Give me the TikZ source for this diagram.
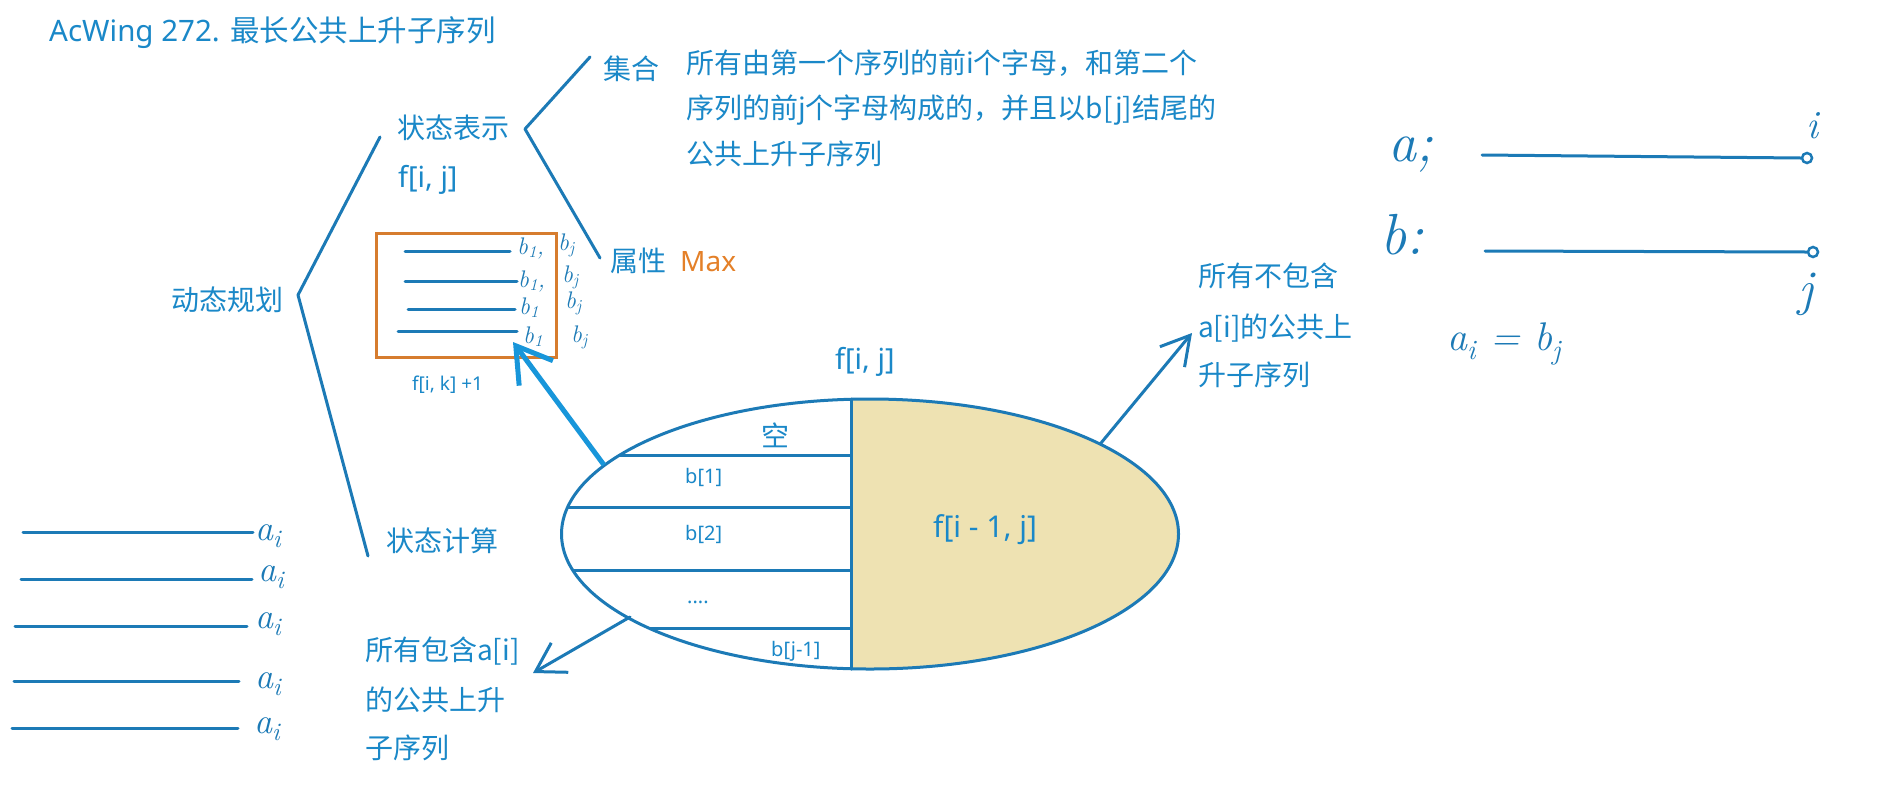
\documentclass[tikz,border=0pt]{standalone}
\usepackage{fontspec}
\newfontfamily\cjk{Noto Sans CJK SC}
\newfontfamily\lat{Noto Sans}
\usetikzlibrary{arrows.meta,shapes.geometric}
\definecolor{txtblue}{RGB}{26,136,200}
\definecolor{lineblue}{RGB}{28,122,182}
\definecolor{brightblue}{RGB}{24,150,218}
\definecolor{boxorange}{RGB}{214,124,46}
\definecolor{maxorange}{RGB}{228,128,40}
\definecolor{tanfill}{RGB}{238,226,178}
\tikzset{
  ctext/.style={font=\cjk\fontsize{#1}{#1}\selectfont, text=txtblue, inner sep=0pt, anchor=base west},
  ctext/.default=28,
  ltext/.style={font=\lat\fontsize{#1}{#1}\selectfont, text=txtblue, inner sep=0pt, anchor=base west},
  ltext/.default=28,
  hand/.style={font=\itshape\fontsize{#1}{#1}\selectfont, text=lineblue, inner sep=0pt, anchor=base west},
  hand/.default=30,
  ln/.style={draw=lineblue, line width=3pt, line cap=round, line join=round},
}
\begin{document}
\begin{tikzpicture}[x=1pt,y=-1pt]
\useasboundingbox[fill=white] (0,0) rectangle (1903,801);

% title
\node[ltext=29.5] (title) at (49,41) {AcWing 272. {\cjk 最长公共上升子序列}};

% tree
\coordinate (t1top) at (380,137);
\coordinate (t1v) at (298,295);
\coordinate (t1bot) at (368,556);
\draw[ln] (t1top) -- (t1v) -- (t1bot);
\coordinate (t2top) at (590,57);
\coordinate (t2v) at (525,129);
\coordinate (t2bot) at (600,258);
\draw[ln] (t2top) -- (t2v) -- (t2bot);

\node[ctext] (dp) at (171,310) {动态规划};
\node[ctext] (rep) at (397,138) {状态表示};
\node[ltext=29] (fij) at (398,187) {f[i, j]};
\node[ctext] (calc) at (386,551) {状态计算};
\node[ctext] (set) at (603,79) {集合};
\node[ctext] (d1) at (686,73) {所有由第一个序列的前i个字母，和第二个};
\node[ctext] (d2) at (686,118) {序列的前j个字母构成的，并且以b[j]结尾的};
\node[ctext] (d3) at (686,164) {公共上升子序列};
\node[ctext] (attr) at (610,271) {属性};
\node[ltext=28, text=maxorange] (max) at (680,271) {Max};

% orange box
\node[rectangle, draw=boxorange, line width=3pt, minimum width=180pt, minimum height=124pt, inner sep=0pt] (box) at (466,295) {};
\draw[ln] (405,251) -- (510,251);
\draw[ln] (405,281) -- (517,281);
\draw[ln] (408,309) -- (515,309);
\draw[ln] (398,331) -- (517,331);
\node[hand=24] (bb1) at (517,254) {b\textsubscript{1},};
\node[hand=24] (bb2) at (518,287) {b\textsubscript{1},};
\node[hand=24] (bb3) at (519,314) {b\textsubscript{1}};
\node[hand=24] (bb4) at (523,343) {b\textsubscript{1}};
\node[hand=24] (bj1) at (558,250) {b\textsubscript{j}};
\node[hand=24] (bj2) at (562,282) {b\textsubscript{j}};
\node[hand=24] (bj3) at (565,308) {b\textsubscript{j}};
\node[hand=24] (bj4) at (571,342) {b\textsubscript{j}};
\node[ltext=19] (fik) at (412,390) {f[i, k] +1};

% ellipse
\begin{scope}
\clip (870,534) ellipse [x radius=308.5pt, y radius=135pt];
\fill[tanfill] (851,380) rectangle (1200,690);
\draw[ln] (540,455) -- (851,455);
\draw[ln] (540,507) -- (851,507);
\draw[ln] (540,570) -- (851,570);
\draw[ln] (540,628) -- (851,628);
\end{scope}
\node[ellipse, draw=lineblue, line width=3pt, minimum width=617pt, minimum height=270pt, inner sep=0pt] (ell) at (870,534) {};
\draw[ln] (851,399) -- (851,669);

\node[ltext=29] (ftop) at (835,369) {f[i, j]};
\node[ctext] (empty) at (761,446) {空};
\node[ltext=20] (b1) at (685,483) {b[1]};
\node[ltext=20] (b2) at (685,540) {b[2]};
\node[ltext=20] (dots) at (687,603) {....};
\node[ltext=20] (bjm) at (771,656) {b[j-1]};
\node[ltext=30] (fim) at (933,537) {f[i - 1, j]};

% arrows
\coordinate (a1s) at (604,465);
\coordinate (a1e) at (513,342);
\draw[draw=brightblue, line width=5pt, -{Straight Barb[length=34pt,width=42pt]}] (a1s) -- (a1e);
\coordinate (a2s) at (1101,443);
\coordinate (a2e) at (1192,333);
\draw[ln, -{Straight Barb[length=28pt,width=32pt]}] (a2s) -- (a2e);
\coordinate (a3s) at (630,617);
\coordinate (a3e) at (533,673);
\draw[ln, -{Straight Barb[length=28pt,width=34pt]}] (a3s) -- (a3e);

\node[ctext] (nc1) at (1198,286) {所有不包含};
\node[ctext] (nc2) at (1198,337) {a[i]的公共上};
\node[ctext] (nc3) at (1198,385) {升子序列};
\node[ctext] (c1) at (365,660) {所有包含a[i]};
\node[ctext] (c2) at (365,710) {的公共上升};
\node[ctext] (c3) at (365,758) {子序列};

% left lines
\node[hand=36] (ai1) at (255,540) {a\textsubscript{i}};
\node[hand=36] (ai2) at (258,581) {a\textsubscript{i}};
\node[hand=36] (ai3) at (255,628) {a\textsubscript{i}};
\node[hand=36] (ai4) at (255,688) {a\textsubscript{i}};
\node[hand=36] (ai5) at (254,733) {a\textsubscript{i}};
\coordinate (l1) at (23,532);
\coordinate (l2) at (21,579);
\coordinate (l3) at (15,626);
\coordinate (l4) at (14,681);
\coordinate (l5) at (12,728);
\draw[ln] (l1) -- (253,532);
\draw[ln] (l2) -- (252,579);
\draw[ln] (l3) -- (247,626);
\draw[ln] (l4) -- (239,681);
\draw[ln] (l5) -- (238,728);

% right top
\node[hand=56] (alab) at (1388,161) {a;};
\node[hand=58] (blab) at (1380,254) {b:};
\node[circle, draw=lineblue, fill=white, line width=2.5pt, minimum size=10pt, inner sep=0pt] (ci) at (1807,158) {};
\node[circle, draw=lineblue, fill=white, line width=2.5pt, minimum size=10pt, inner sep=0pt] (cj) at (1813,252) {};
\coordinate (la) at (1482,155);
\coordinate (lb) at (1485,251);
\draw[ln] (la) -- (ci.west);
\draw[ln] (lb) -- (cj.west);
\node[hand=40] (ilab) at (1806,138) {i};
\node[hand=50] (jlab) at (1798,305) {j};
\node[hand=40] (eq) at (1447,350) {a\textsubscript{i} = b\textsubscript{j}};
\end{tikzpicture}
\end{document}
